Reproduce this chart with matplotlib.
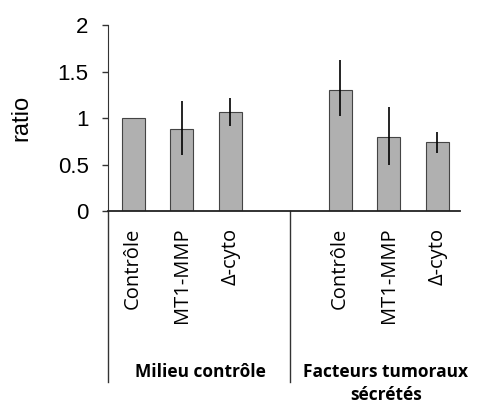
import numpy as np
import matplotlib.pyplot as plt
from matplotlib.lines import Line2D

categories = ['Contrôle', 'MT1-MMP', 'Δ-cyto', 'Contrôle', 'MT1-MMP', 'Δ-cyto']
groups = ['Milieu contrôle', 'Facteurs tumoraux', 'sécrétés']
ratio = [1.0, 0.88, 1.06, 1.30, 0.80, 0.74]
err_hi = [0.0, 0.30, 0.15, 0.32, 0.32, 0.11]
err_lo = [0.0, 0.28, 0.15, 0.28, 0.30, 0.12]
yticks = [0, 0.5, 1, 1.5, 2]

x = np.array([0, 1, 2, 4.27, 5.27, 6.27])

fig = plt.figure(figsize=(4.82, 4.05), dpi=100)
ax = fig.add_axes([108/482, 1 - 211/405, 352/482, 186/405])

ax.bar(x, ratio, width=0.47, color='#b0b0b0', edgecolor='#444444', linewidth=0.8)
ax.errorbar(x[1:], ratio[1:], yerr=[err_lo[1:], err_hi[1:]], fmt='none',
            ecolor='black', elinewidth=1.2, capsize=0)

ax.set_xlim(-0.52, 6.74)
ax.set_ylim(0, 2)
ax.set_yticks(yticks)
ax.set_yticklabels(['0', '0.5', '1', '1.5', '2'], fontsize=16, family='Liberation Sans')
ax.set_ylabel('ratio', fontsize=17, family='Liberation Sans', labelpad=18)
ax.set_xticks(x)
ax.set_xticklabels(categories, rotation=90, fontsize=14.5, family='Open Sans')
ax.tick_params(axis='x', length=0, pad=12)
ax.tick_params(axis='y', length=4, width=1, color='#333333', pad=10)
for s in ['top', 'right']:
    ax.spines[s].set_visible(False)
ax.spines['left'].set_color('#333333')
ax.spines['bottom'].set_color('#222222')
ax.spines['bottom'].set_linewidth(1.3)

# lignes de séparation sous l'axe
ax.add_line(Line2D([0, 0], [0, -(382 - 211) / 186], transform=ax.transAxes,
                   color='#333333', lw=1, clip_on=False))
sep = (290 - 108) / 352
ax.add_line(Line2D([sep, sep], [0, -(382 - 211) / 186], transform=ax.transAxes,
                   color='#333333', lw=1, clip_on=False))

ax.text((200 - 108) / 352, -(372 - 211) / 186, groups[0], transform=ax.transAxes,
        ha='center', va='center', fontsize=12.5, fontweight='bold', family='Open Sans')
ax.text((386 - 108) / 352, -(372 - 211) / 186, groups[1], transform=ax.transAxes,
        ha='center', va='center', fontsize=12.5, fontweight='bold', family='Open Sans')
ax.text((386 - 108) / 352, -(395 - 211) / 186, groups[2], transform=ax.transAxes,
        ha='center', va='center', fontsize=12.5, fontweight='bold', family='Open Sans')

fig.savefig('out.png', dpi=100)
